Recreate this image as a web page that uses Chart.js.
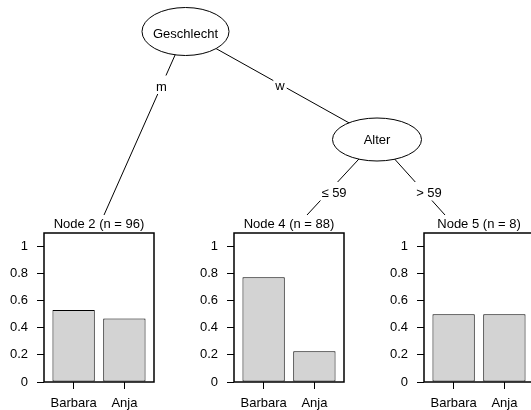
<!DOCTYPE html>
<html>
<head>
<meta charset="utf-8">
<script src="https://cdn.jsdelivr.net/npm/chart.js@4.4.1/dist/chart.umd.min.js"></script>
<style>
  html, body { margin: 0; padding: 0; width: 531px; height: 410px; overflow: hidden; background: #fff; }
  #wrap { position: relative; width: 531px; height: 410px; overflow: hidden; }
  #wrap canvas { position: absolute; }
</style>
</head>
<body>
<div id="wrap">
  <canvas id="tree" width="531" height="410" style="left:0;top:0;"></canvas>
  <canvas id="node2" width="160" height="205" style="left:0;top:205px;"></canvas>
  <canvas id="node4" width="160" height="205" style="left:190px;top:205px;"></canvas>
  <canvas id="node5" width="160" height="205" style="left:380px;top:205px;"></canvas>
</div>
<script>
// Response classes and class proportions in each terminal node
const classes = ['Barbara', 'Anja'];
const nodeIds = [2, 4, 5];
const nodeSizes = [96, 88, 8];
const node2Props = [0.531, 0.469];
const node4Props = [0.773, 0.227];
const node5Props = [0.5, 0.5];
const yTicks = [0, 0.2, 0.4, 0.6, 0.8, 1];
// bar midpoints of a barplot with width 1 and space 0.2
const barPositions = [0.7, 1.9];

// Split variables and edge labels of the tree
const splitVars = ['Geschlecht', 'Alter'];
const edgeLabels = ['m', 'w', '\u2264 59', '> 59'];

const FONT = "'Liberation Sans', Arial, Helvetica, sans-serif";

// Tree drawing layout (canvas pixels)
const treeLayout = {
  inner: [
    { cx: 185.5, cy: 31.5, rx: 43.5, ry: 24, ty: 37.5 },   // Geschlecht
    { cx: 377, cy: 139.5, rx: 44.5, ry: 21.5, ty: 143.5 }  // Alter
  ],
  edges: [
    { from: 0, to: [104, 215], lx: 161.5, ly: 90.5 },   // m
    { from: 0, to: [377, 138.5], lx: 280, ly: 90 },     // w
    { from: 1, to: [307, 215], lx: 334, ly: 197 },      // <= 59
    { from: 1, to: [445, 215], lx: 429, ly: 197 }       // > 59
  ]
};

const treePlugin = {
  id: 'treeDiagram',
  afterDraw(chart) {
    const ctx = chart.ctx;
    ctx.save();
    ctx.strokeStyle = '#000';
    ctx.lineWidth = 1;
    // edges
    treeLayout.edges.forEach(e => {
      const p = treeLayout.inner[e.from];
      ctx.beginPath();
      ctx.moveTo(p.cx, p.cy);
      ctx.lineTo(e.to[0], e.to[1]);
      ctx.stroke();
    });
    // inner nodes
    ctx.font = '13px ' + FONT;
    ctx.textAlign = 'center';
    ctx.textBaseline = 'alphabetic';
    treeLayout.inner.forEach((n, i) => {
      ctx.beginPath();
      ctx.ellipse(n.cx, n.cy, n.rx, n.ry, 0, 0, Math.PI * 2);
      ctx.fillStyle = '#fff';
      ctx.fill();
      ctx.stroke();
      ctx.fillStyle = '#000';
      ctx.fillText(splitVars[i], n.cx, n.ty);
    });
    // edge labels on white boxes
    treeLayout.edges.forEach((e, i) => {
      const w = ctx.measureText(edgeLabels[i]).width + 4;
      ctx.fillStyle = '#fff';
      ctx.fillRect(e.lx - w / 2, e.ly - 15, w, 18.5);
      ctx.fillStyle = '#000';
      ctx.fillText(edgeLabels[i], e.lx, e.ly);
    });
    ctx.restore();
  }
};

new Chart(document.getElementById('tree'), {
  type: 'scatter',
  data: { datasets: [] },
  options: {
    responsive: false,
    animation: false,
    events: [],
    plugins: { legend: { display: false }, tooltip: { enabled: false } },
    scales: { x: { display: false }, y: { display: false } }
  },
  plugins: [treePlugin]
});

// frame around each node's plotting region
const frame = {
  id: 'frame',
  afterDatasetsDraw(chart) {
    const a = chart.chartArea;
    const ctx = chart.ctx;
    ctx.save();
    ctx.strokeStyle = '#000';
    ctx.lineWidth = 1.5;
    ctx.strokeRect(a.left, a.top, a.right - a.left, a.bottom - a.top);
    ctx.restore();
  }
};

function nodePanel(canvasId, id, n, props) {
  const tickFont = { family: FONT, size: 13, weight: 'normal', lineHeight: 1.2 };
  return new Chart(document.getElementById(canvasId), {
    type: 'bar',
    data: {
      datasets: [{
        data: barPositions.map((x, i) => ({ x: x, y: props[i] })),
        backgroundColor: '#d3d3d3',
        borderColor: '#000',
        borderWidth: 1,
        borderSkipped: false,
        barPercentage: 1 / 1.2,
        categoryPercentage: 1
      }]
    },
    options: {
      responsive: false,
      animation: false,
      events: [],
      layout: { padding: { left: 0, right: 6, top: 0, bottom: 0 } },
      plugins: {
        legend: { display: false },
        tooltip: { enabled: false },
        title: {
          display: true,
          fullSize: false,
          text: 'Node ' + id + ' (n = ' + n + ')',
          color: '#000',
          font: tickFont,
          padding: { top: 12, bottom: 0.4 }
        }
      },
      scales: {
        x: {
          type: 'linear',
          min: 0,
          max: 2.6,
          offset: false,
          border: { display: false },
          grid: { display: true, drawOnChartArea: false, drawTicks: true, tickLength: 7, color: '#000', offset: false },
          afterBuildTicks: s => { s.ticks = barPositions.map(v => ({ value: v })); },
          afterFit: s => { s.height = 28; },
          ticks: {
            autoSkip: false,
            maxRotation: 0,
            padding: 7,
            color: '#000',
            font: tickFont,
            callback: (v, i) => classes[i]
          }
        },
        y: {
          min: 0,
          max: 1.1,
          border: { display: false },
          grid: { display: true, drawOnChartArea: false, drawTicks: true, tickLength: 7, color: '#000' },
          afterBuildTicks: s => { s.ticks = yTicks.map(v => ({ value: v })); },
          afterFit: s => { s.width = 44; },
          ticks: {
            padding: 9,
            color: '#000',
            font: tickFont,
            callback: v => String(v)
          }
        }
      }
    },
    plugins: [frame]
  });
}

nodePanel('node2', nodeIds[0], nodeSizes[0], node2Props);
nodePanel('node4', nodeIds[1], nodeSizes[1], node4Props);
nodePanel('node5', nodeIds[2], nodeSizes[2], node5Props);
</script>
</body>
</html>
